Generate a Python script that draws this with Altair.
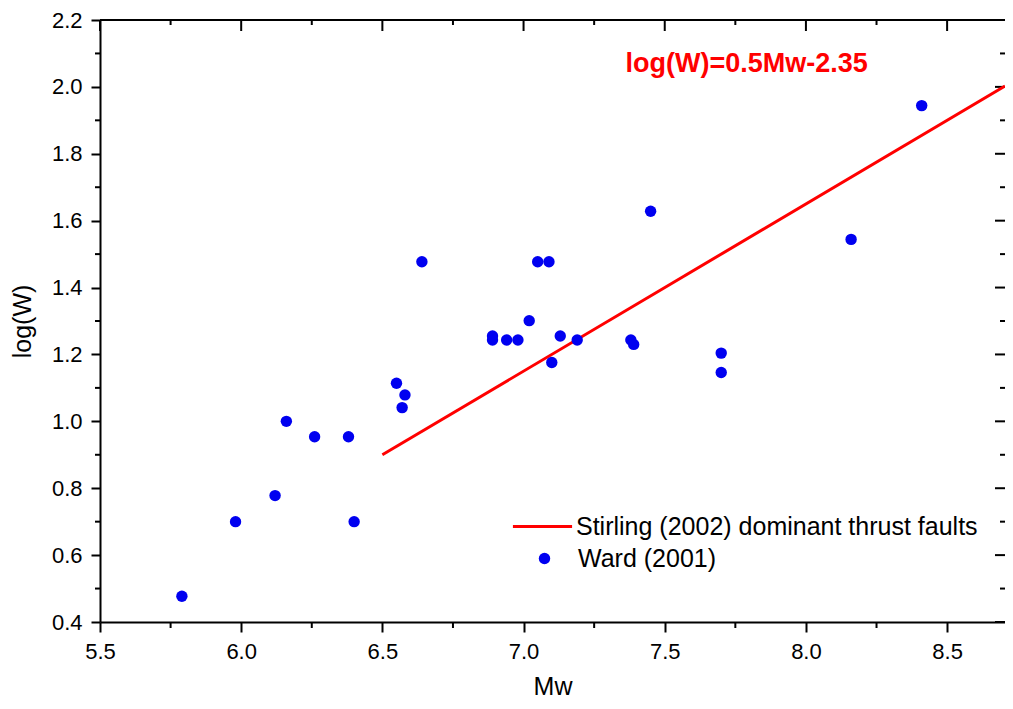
import altair as alt
import pandas as pd

# Ward (2001) data points
mw = [5.79, 5.98, 6.12, 6.16, 6.26, 6.38, 6.40, 6.55, 6.58, 6.57, 6.64,
      6.89, 6.89, 6.94, 6.98, 7.02, 7.05, 7.09, 7.10, 7.13, 7.19,
      7.38, 7.39, 7.45, 7.70, 7.70, 8.16, 8.41]
logw = [0.477, 0.70, 0.778, 1.0, 0.954, 0.954, 0.70, 1.114, 1.079, 1.041, 1.477,
        1.255, 1.243, 1.243, 1.243, 1.301, 1.477, 1.477, 1.176, 1.255, 1.243,
        1.243, 1.230, 1.628, 1.204, 1.146, 1.544, 1.944]

# Stirling (2002) line endpoints (runs to the right edge of the plot)
line_mw = [6.5, 8.705]
line_logw = [0.9, 2.0025]

# tick positions
major_x = [5.5, 6.0, 6.5, 7.0, 7.5, 8.0, 8.5]
minor_x = [5.75, 6.25, 6.75, 7.25, 7.75, 8.25]
major_y = [0.4, 0.6, 0.8, 1.0, 1.2, 1.4, 1.6, 1.8, 2.0, 2.2]
minor_y = [0.5, 0.7, 0.9, 1.1, 1.3, 1.5, 1.7, 1.9, 2.1]

line_label = "Stirling (2002) dominant thrust faults"
point_label = "Ward (2001)"
annot_text = ["log(W)=0.5Mw-2.35"]
annot_x = [7.79]
annot_y = [2.046]

FONT = "Liberation Sans"
W, H = 905, 602
X_DOMAIN = [5.5, 8.705]
Y_DOMAIN = [0.4, 2.2]

x_axis = alt.Axis(values=major_x, format=".1f", title="Mw", tickSize=10, tickWidth=2,
                  domainWidth=2, domainColor="black", tickColor="black", grid=False,
                  labelFont=FONT, labelFontSize=22, labelColor="black", labelPadding=9,
                  labelFlush=False, labelOverlap=False,
                  titleFont=FONT, titleFontSize=25, titleFontWeight="normal",
                  titleColor="black", titleY=72, titleBaseline="alphabetic")
y_axis = alt.Axis(values=major_y, format=".1f", title="log(W)", tickSize=9, tickWidth=2,
                  domainWidth=2, domainColor="black", tickColor="black", grid=False,
                  labelFont=FONT, labelFontSize=22, labelColor="black", labelPadding=9,
                  labelFlush=False, labelOverlap=False,
                  titleFont=FONT, titleFontSize=25, titleFontWeight="normal",
                  titleColor="black", titleX=-70, titleY=H / 2, titleBaseline="alphabetic")

def X(field):
    return alt.X(field, type="quantitative", scale=alt.Scale(domain=X_DOMAIN, nice=False, zero=False), axis=x_axis)

def Y(field):
    return alt.Y(field, type="quantitative", scale=alt.Scale(domain=Y_DOMAIN, nice=False, zero=False), axis=y_axis)

pts = pd.DataFrame({"mw": mw, "logw": logw, "series": point_label})
ln = pd.DataFrame({"mw": line_mw, "logw": line_logw, "series": line_label})
ann = pd.DataFrame({"mw": annot_x, "logw": annot_y, "t": annot_text})

line = alt.Chart(ln).mark_line(strokeWidth=3).encode(
    x=X("mw"), y=Y("logw"),
    color=alt.Color("series:N", scale=alt.Scale(domain=[line_label], range=["#ff0000"]),
                    legend=alt.Legend(title=None, orient="none", legendX=411, legendY=475,
                                      symbolType="stroke", symbolSize=3500, symbolStrokeWidth=3,
                                      labelFont=FONT, labelFontSize=25, labelColor="black",
                                      labelOffset=2, labelLimit=0, padding=0)))

points = alt.Chart(pts).mark_circle(size=130, opacity=1).encode(
    x=X("mw"), y=Y("logw"),
    fill=alt.Fill("series:N", scale=alt.Scale(domain=[point_label], range=["#0000f0"]),
                  legend=alt.Legend(title=None, orient="none", legendX=432, legendY=526,
                                    symbolType="circle", symbolSize=130, symbolStrokeWidth=0,
                                    symbolOpacity=1,
                                    labelFont=FONT, labelFontSize=25, labelColor="black",
                                    labelOffset=21, labelLimit=0, padding=0)))

annot = alt.Chart(ann).mark_text(font=FONT, fontSize=27, fontWeight="bold", color="#ff0000",
                                 align="center", baseline="alphabetic").encode(
    x=X("mw"), y=Y("logw"), text="t:N")

mxd = pd.DataFrame({"v": major_x})
mnxd = pd.DataFrame({"v": minor_x})
myd = pd.DataFrame({"v": major_y})
mnyd = pd.DataFrame({"v": minor_y})

tick_style = dict(color="black", strokeWidth=2)
bottom_minor = alt.Chart(mnxd).mark_rule(**tick_style).encode(x=X("v"), y=alt.value(H), y2=alt.value(H + 6))
left_minor = alt.Chart(mnyd).mark_rule(**tick_style).encode(y=Y("v"), x=alt.value(0), x2=alt.value(-5))
top_major = alt.Chart(mxd).mark_rule(**tick_style).encode(x=X("v"), y=alt.value(0), y2=alt.value(11))
top_minor = alt.Chart(mnxd).mark_rule(**tick_style).encode(x=X("v"), y=alt.value(0), y2=alt.value(5))
right_major = alt.Chart(myd).mark_rule(**tick_style).encode(y=Y("v"), x=alt.value(W), x2=alt.value(W - 10))
right_minor = alt.Chart(mnyd).mark_rule(**tick_style).encode(y=Y("v"), x=alt.value(W), x2=alt.value(W - 5))
top_line = alt.Chart(mxd).mark_rule(**tick_style).encode(x=alt.value(0), x2=alt.value(W), y=alt.value(0))

chart = alt.layer(
    top_line, bottom_minor, left_minor, top_major, top_minor, right_major, right_minor,
    line, points, annot
).resolve_legend(color="independent", fill="independent").properties(
    width=W, height=H,
    padding={"left": 92, "top": 12, "right": 0, "bottom": 78},
    autosize=alt.AutoSizeParams(type="none"),
    background="white",
).configure_view(stroke=None)

chart.save("out.html", embed_options={"renderer": "svg", "actions": False})
